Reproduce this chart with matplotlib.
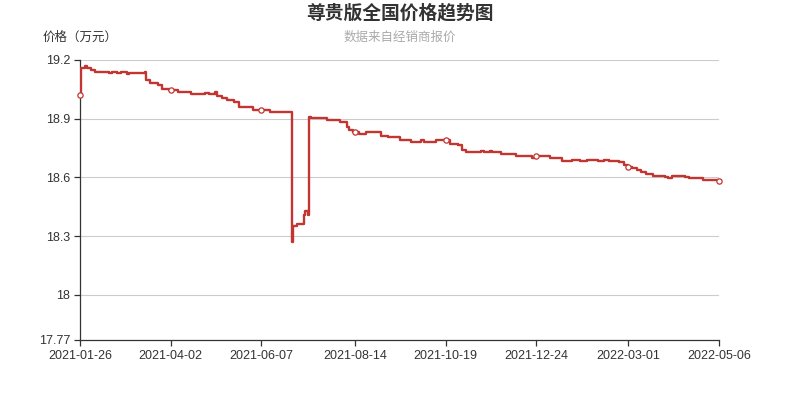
import matplotlib
matplotlib.use('Agg')
import matplotlib.pyplot as plt
import pandas as pd

plt.rcParams['font.family'] = ['Liberation Sans', 'Noto Sans CJK SC', 'DejaVu Sans']

title = '尊贵版全国价格趋势图'
subtitle = '数据来自经销商报价'
y_name = '价格（万元）'

# dates where the quoted price changed, and the price from that day on
dates = ['2021-01-26', '2021-01-27', '2021-01-30', '2021-01-31', '2021-02-03',
         '2021-02-06', '2021-02-16', '2021-02-18', '2021-02-22', '2021-02-25',
         '2021-03-01', '2021-03-03', '2021-03-14', '2021-03-15', '2021-03-18',
         '2021-03-24', '2021-03-27', '2021-04-01', '2021-04-07', '2021-04-17',
         '2021-04-27', '2021-04-30', '2021-05-04', '2021-05-06', '2021-05-09',
         '2021-05-13', '2021-05-18', '2021-05-22', '2021-06-01', '2021-06-13',
         '2021-06-29', '2021-06-30', '2021-07-03', '2021-07-08', '2021-07-09',
         '2021-07-11', '2021-07-12', '2021-07-13', '2021-07-25', '2021-08-03',
         '2021-08-08', '2021-08-10', '2021-08-13', '2021-08-17', '2021-08-22',
         '2021-09-02', '2021-09-07', '2021-09-16', '2021-09-24', '2021-10-01',
         '2021-10-03', '2021-10-12', '2021-10-22', '2021-10-28', '2021-10-31',
         '2021-11-03', '2021-11-14', '2021-11-16', '2021-11-20', '2021-11-22',
         '2021-11-28', '2021-12-09', '2021-12-21', '2021-12-23', '2022-01-03',
         '2022-01-12', '2022-01-19', '2022-01-25', '2022-01-30', '2022-02-07',
         '2022-02-11', '2022-02-15', '2022-02-22', '2022-02-26', '2022-03-01',
         '2022-03-04', '2022-03-07', '2022-03-10', '2022-03-14', '2022-03-19',
         '2022-03-28', '2022-03-30', '2022-04-02', '2022-04-11', '2022-04-14',
         '2022-04-24', '2022-05-06']
prices = [19.02, 19.16, 19.17, 19.16, 19.15,
          19.14, 19.135, 19.14, 19.135, 19.14,
          19.13, 19.135, 19.14, 19.10, 19.08,
          19.07, 19.05, 19.045, 19.035, 19.025,
          19.03, 19.025, 19.035, 19.015, 19.005,
          18.995, 18.985, 18.96, 18.945, 18.935,
          18.27, 18.35, 18.36, 18.41, 18.43,
          18.41, 18.91, 18.905, 18.895, 18.885,
          18.86, 18.845, 18.83, 18.82, 18.83,
          18.81, 18.805, 18.79, 18.78, 18.79,
          18.78, 18.79, 18.77, 18.765, 18.74,
          18.73, 18.735, 18.73, 18.735, 18.73,
          18.72, 18.71, 18.70, 18.71, 18.70,
          18.685, 18.69, 18.685, 18.69, 18.685,
          18.69, 18.685, 18.68, 18.665, 18.655,
          18.65, 18.64, 18.63, 18.62, 18.61,
          18.60, 18.595, 18.61, 18.60, 18.595,
          18.585, 18.58]

tick_labels = ['2021-01-26', '2021-04-02', '2021-06-07', '2021-08-14',
               '2021-10-19', '2021-12-24', '2022-03-01', '2022-05-06']
y_ticks = [17.77, 18, 18.3, 18.6, 18.9, 19.2]
y_tick_labels = ['17.77', '18', '18.3', '18.6', '18.9', '19.2']

red = '#c23531'
dark = '#333333'

s = pd.Series(prices, index=pd.to_datetime(dates))
tick_d = pd.to_datetime(tick_labels)
marker_vals = [s.asof(d) for d in tick_d]

fig = plt.figure(figsize=(8, 4), dpi=100)
ax = fig.add_axes([0.1, 0.15, 0.79875, 0.70])

ax.plot(s.index, s.values, drawstyle='steps-post', color=red, lw=1.7, zorder=3)
ax.plot(tick_d, marker_vals, 'o', ms=3.8, mfc='white', mec=red, mew=0.9,
        zorder=4, clip_on=False)

ax.set_xlim(tick_d[0], tick_d[-1])
ax.set_ylim(17.77, 19.2)
ax.set_xticks(tick_d)
ax.set_xticklabels(tick_labels)
ax.set_yticks(y_ticks)
ax.set_yticklabels(y_tick_labels)

for v in y_ticks[1:]:
    ax.axhline(v, color='#cccccc', lw=0.8, zorder=1)

for side in ['top', 'right']:
    ax.spines[side].set_visible(False)
for side in ['left', 'bottom']:
    ax.spines[side].set_color(dark)
    ax.spines[side].set_linewidth(0.9)
ax.tick_params(colors=dark, labelsize=9, length=4, width=0.9, pad=3)

fig.text(0.5, 0.968, title, ha='center', va='center', fontsize=13.5,
         fontweight='bold', color=dark)
fig.text(0.5, 0.905, subtitle, ha='center', va='center', fontsize=9, color='#aaaaaa')
fig.text(0.1, 0.905, y_name, ha='center', va='center', fontsize=9, color=dark)

fig.savefig('out.png', dpi=100)
